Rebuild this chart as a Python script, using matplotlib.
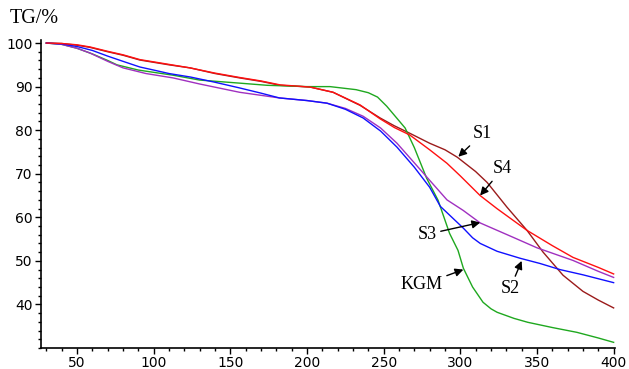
import matplotlib
matplotlib.use("Agg")
import matplotlib.pyplot as plt
from matplotlib.ticker import MultipleLocator

# ---- data ----
s1_x = [30, 40, 50, 58.5, 70, 80, 91, 110, 123.7, 140, 156, 170, 182.4, 202, 217, 234.6, 247.7, 257, 267, 280, 290, 298, 310, 317.5, 330.5, 343.5, 354, 367, 380, 390, 400]
s1_y = [100, 99.9, 99.5, 99.0, 98, 97.2, 96.1, 95, 94.3, 93, 92, 91.2, 90.3, 89.9, 88.7, 85.7, 82.8, 81, 79.3, 77, 75.5, 73.8, 70.5, 68, 62.3, 57, 52, 46.7, 43, 41, 39.2]

s4_x = [30, 40, 50, 58.5, 70, 80, 91, 110, 123.7, 140, 156, 170, 182.4, 202, 217, 234.6, 247.7, 257, 267, 280, 291.3, 300, 312.9, 323.9, 343.5, 360, 373.5, 390, 400]
s4_y = [100, 99.9, 99.6, 99.1, 98.1, 97.3, 96.2, 95.1, 94.3, 93.1, 92.1, 91.3, 90.4, 89.9, 88.7, 85.8, 82.6, 80.6, 78.9, 75.5, 72.4, 69.5, 65, 62, 57, 53.5, 50.8, 48.5, 47]

kgm_x = [30, 40, 50, 60, 70, 76, 90, 113, 130, 156, 174, 200, 215, 232, 240, 246, 252, 258, 264, 270, 278, 285.5, 293, 298.5, 302, 308, 314.8, 320, 324, 335, 344, 360, 376, 390, 400]
kgm_y = [100, 99.7, 98.8, 97.5, 96, 95, 93.8, 92.6, 91.5, 90.8, 90.3, 90, 90, 89.3, 88.6, 87.6, 85.5, 83, 80.5, 76, 69, 63.9, 56.3, 52.4, 48.3, 44, 40.5, 39, 38.2, 36.8, 35.9, 34.7, 33.6, 32.3, 31.3]

s2_x = [30, 40, 50, 60, 70, 80, 91, 100, 110, 124, 140, 156, 170, 182, 200, 213, 225, 236.6, 248, 258.7, 270, 280, 287, 293, 302, 308, 313, 324, 339, 352, 365, 380, 400]
s2_y = [100, 99.8, 99.2, 98.3, 97, 95.8, 94.5, 93.8, 93, 92.2, 91, 89.7, 88.5, 87.4, 86.8, 86.2, 84.8, 82.8, 79.8, 76.1, 71.5, 66.9, 62.5, 60.5, 57.5, 55.3, 54, 52.2, 50.6, 49.4, 48, 46.8, 45]

s3_x = [30, 40, 50, 58.5, 70, 80, 95, 112.6, 130, 156, 182, 200, 213, 225, 236.6, 248, 258.7, 270, 280, 291.3, 301.8, 313, 334.5, 350, 373.5, 390, 400]
s3_y = [100, 99.7, 98.8, 97.7, 95.8, 94.3, 93, 92, 90.6, 88.7, 87.4, 86.8, 86.2, 85, 83.2, 80.5, 77, 72.5, 68.5, 64, 61.6, 58.7, 55.4, 53, 50.1, 47.6, 46.2]

labels = ["S1", "S4", "S3", "KGM", "S2"]
label_pos = [(314.4, 79.2), (327.5, 71.1), (278.3, 56.1), (274.8, 44.5), (332.4, 43.6)]
arrow_tip = [(298.7, 73.9), (312.9, 65.0), (313.0, 58.8), (302.0, 48.0), (340.0, 50.0)]

x_ticks = [50, 100, 150, 200, 250, 300, 350, 400]
y_ticks = [40, 50, 60, 70, 80, 90, 100]

# ---- figure ----
fig = plt.figure(figsize=(6.29, 3.69), dpi=100)
ax = fig.add_axes([0.0652, 0.0569, 0.9128, 0.8347])

ax.plot(s1_x, s1_y, color="#9b1b1b", lw=1.0)
ax.plot(kgm_x, kgm_y, color="#1fa81f", lw=1.0)
ax.plot(s3_x, s3_y, color="#a030c0", lw=1.0)
ax.plot(s2_x, s2_y, color="#1010ff", lw=1.0)
ax.plot(s4_x, s4_y, color="#ff1010", lw=1.0)

for lab, pos, tip in zip(labels, label_pos, arrow_tip):
    ax.annotate(lab, xy=tip, xytext=pos, ha="center", va="center",
                fontsize=13, family="Liberation Serif",
                arrowprops=dict(arrowstyle="-|>", color="black", lw=1.0,
                                mutation_scale=12, shrinkA=1, shrinkB=0))

ax.set_xlim(26.5, 401)
ax.set_ylim(30, 100.7)
ax.set_xticks(x_ticks)
ax.set_yticks(y_ticks)
ax.xaxis.set_minor_locator(MultipleLocator(10))
ax.yaxis.set_minor_locator(MultipleLocator(2))
ax.tick_params(which="major", length=4, width=1, labelsize=10, pad=2)
ax.tick_params(which="minor", length=2, width=1)
for s in ["top", "right"]:
    ax.spines[s].set_visible(False)
for s in ["left", "bottom"]:
    ax.spines[s].set_linewidth(1.2)

fig.text(0.016, 0.95, "TG/%", fontsize=14.5, family="Liberation Serif",
         ha="left", va="center")

fig.savefig("out.png", dpi=100)
